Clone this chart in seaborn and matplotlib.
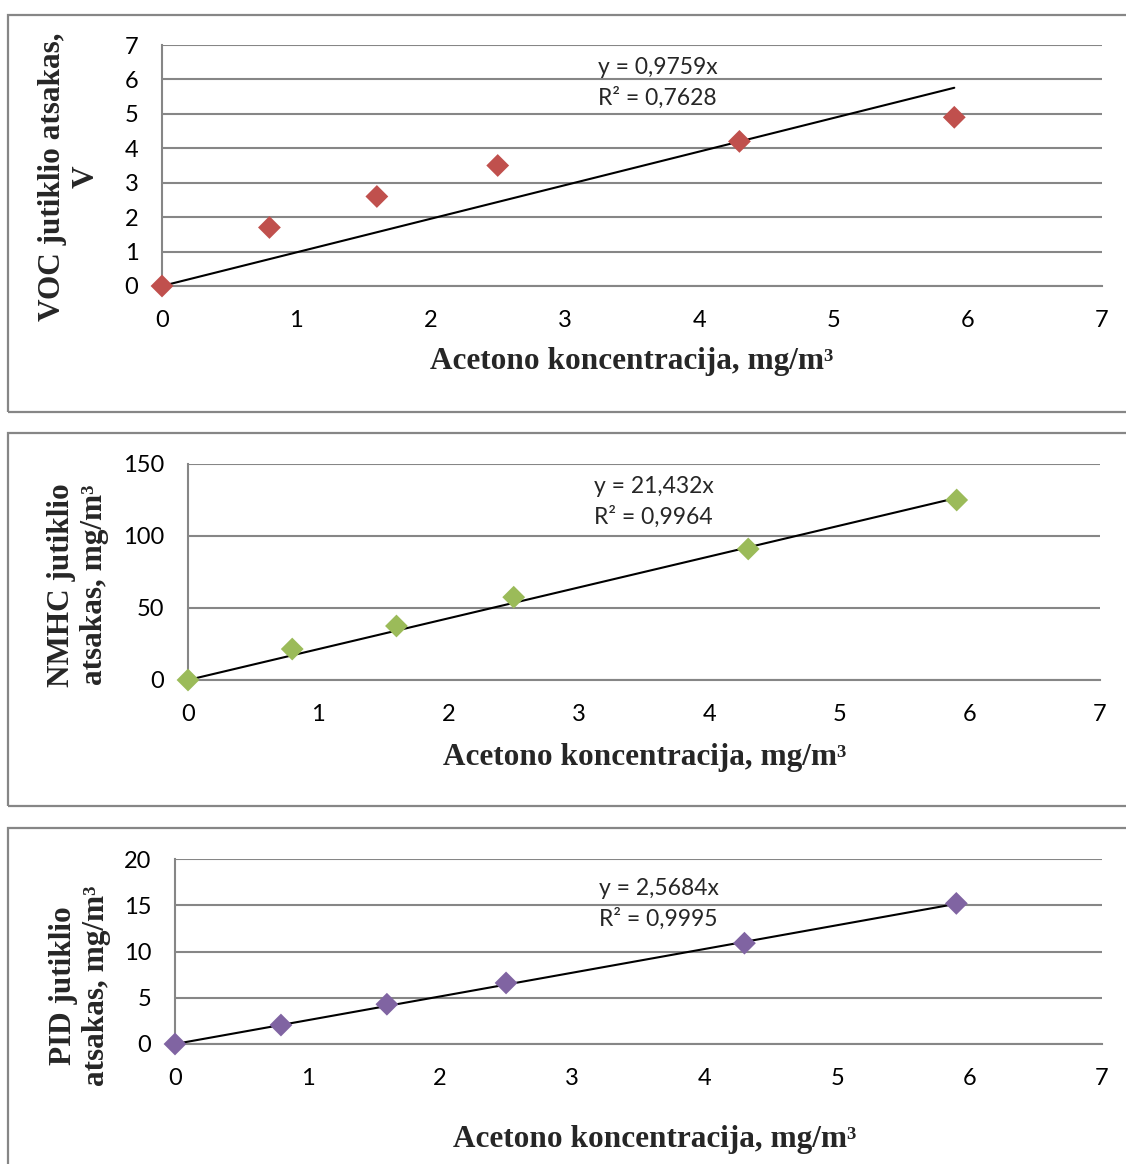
import numpy as np
import pandas as pd
import matplotlib
matplotlib.use("Agg")
import matplotlib.pyplot as plt
import seaborn as sns
from matplotlib.patches import Rectangle

# acetone concentration, mg/m3 (shared x for all three sensors)
acetone = [0, 0.8, 1.6, 2.5, 4.3, 5.9]

voc = [0, 1.7, 2.6, 3.5, 4.2, 4.9]
nmhc = [0, 21.5, 37.5, 57.5, 91, 125]
pid = [0, 2.05, 4.3, 6.6, 10.9, 15.2]

slopes = [0.9759, 21.432, 2.5684]
r2 = ["0,7628", "0,9964", "0,9995"]
slope_txt = ["0,9759", "21,432", "2,5684"]

ylabels = ["VOC jutiklio atsakas,\nV",
           "NMHC jutiklio\natsakas, mg/m³",
           "PID jutiklio\natsakas, mg/m³"]
ymax = [7, 150, 20]
ystep = [1, 50, 5]
colors = ["#C0504D", "#9BBB59", "#8064A2"]

W, H = 1126, 1164
sns.set_style("white")
plt.rcParams['font.family'] = ['Lato', 'DejaVu Sans']

fig = plt.figure(figsize=(W / 100, H / 100), dpi=100)

# panel layouts in pixels: plot area (left, right, top, bottom), box top/bottom,
# xlabel centre, ylabel centre, equation anchor (data x, pixel y)
panels = [
    dict(ax=(162, 1102, 45, 286), box=(15, 412), xl=(632, 362), yl=(69, 177), eq=(3.25, 83)),
    dict(ax=(188, 1100, 464, 680), box=(433, 806), xl=(645, 757), yl=(78, 585), eq=(3.12, 502)),
    dict(ax=(175, 1102, 859, 1044), box=(828, 1180), xl=(655, 1140), yl=(80, 986), eq=(3.2, 904)),
]
grey = "#868686"
serif = ['Liberation Serif', 'DejaVu Serif']

for i, p in enumerate(panels):
    # outer chart border
    bt, bb = p["box"]
    fig.patches.append(Rectangle((8 / W, 1 - bb / H), 1.2, (bb - bt) / H,
                                 transform=fig.transFigure, fill=False,
                                 edgecolor=grey, linewidth=1.6))
    l, r, t, b = p["ax"]
    ax = fig.add_axes([l / W, 1 - b / H, (r - l) / W, (b - t) / H])

    df = pd.DataFrame({"x": acetone, "y": [voc, nmhc, pid][i]})
    fit = pd.DataFrame({"x": [0, max(acetone)]})
    fit["y"] = fit["x"] * slopes[i]
    sns.lineplot(data=fit, x="x", y="y", color="black", linewidth=1.5, ax=ax, zorder=3)
    sns.scatterplot(data=df, x="x", y="y", marker="D", s=135, color=colors[i],
                    edgecolor="none", ax=ax, zorder=4, clip_on=False)

    ax.set_xlim(0, 7)
    ax.set_ylim(0, ymax[i])
    ax.set_xticks(range(0, 8))
    ax.set_yticks(np.arange(0, ymax[i] + 1, ystep[i]))
    ax.yaxis.grid(True, color=grey, linewidth=1.5)
    ax.set_axisbelow(True)
    for s in ["top", "right"]:
        ax.spines[s].set_visible(False)
    for s in ["left", "bottom"]:
        ax.spines[s].set_color(grey)
        ax.spines[s].set_linewidth(1.5)
    ax.tick_params(axis="both", direction="out", length=8, width=1.5, color=grey,
                   labelsize=17, labelcolor="black")
    ax.tick_params(axis="x", pad=9)
    ax.tick_params(axis="y", pad=9)
    ax.set_xlabel("")
    ax.set_ylabel("")

    ex, ey = p["eq"]
    ax.text(ex, 1 - ey / H, f"y = {slope_txt[i]}x\nR² = {r2[i]}",
            transform=matplotlib.transforms.blended_transform_factory(ax.transData, fig.transFigure),
            fontsize=16.5, va="center", ha="left", linespacing=1.5)

    fig.text(p["xl"][0] / W, 1 - p["xl"][1] / H, "Acetono koncentracija, mg/m³",
             ha="center", va="center", fontsize=22.5, fontweight="bold", family=serif)
    fig.text(p["yl"][0] / W, 1 - p["yl"][1] / H, ylabels[i], rotation=90,
             ha="center", va="center", fontsize=22.5, fontweight="bold", family=serif,
             multialignment="center", linespacing=1.2)

fig.savefig("out.png", dpi=100)
